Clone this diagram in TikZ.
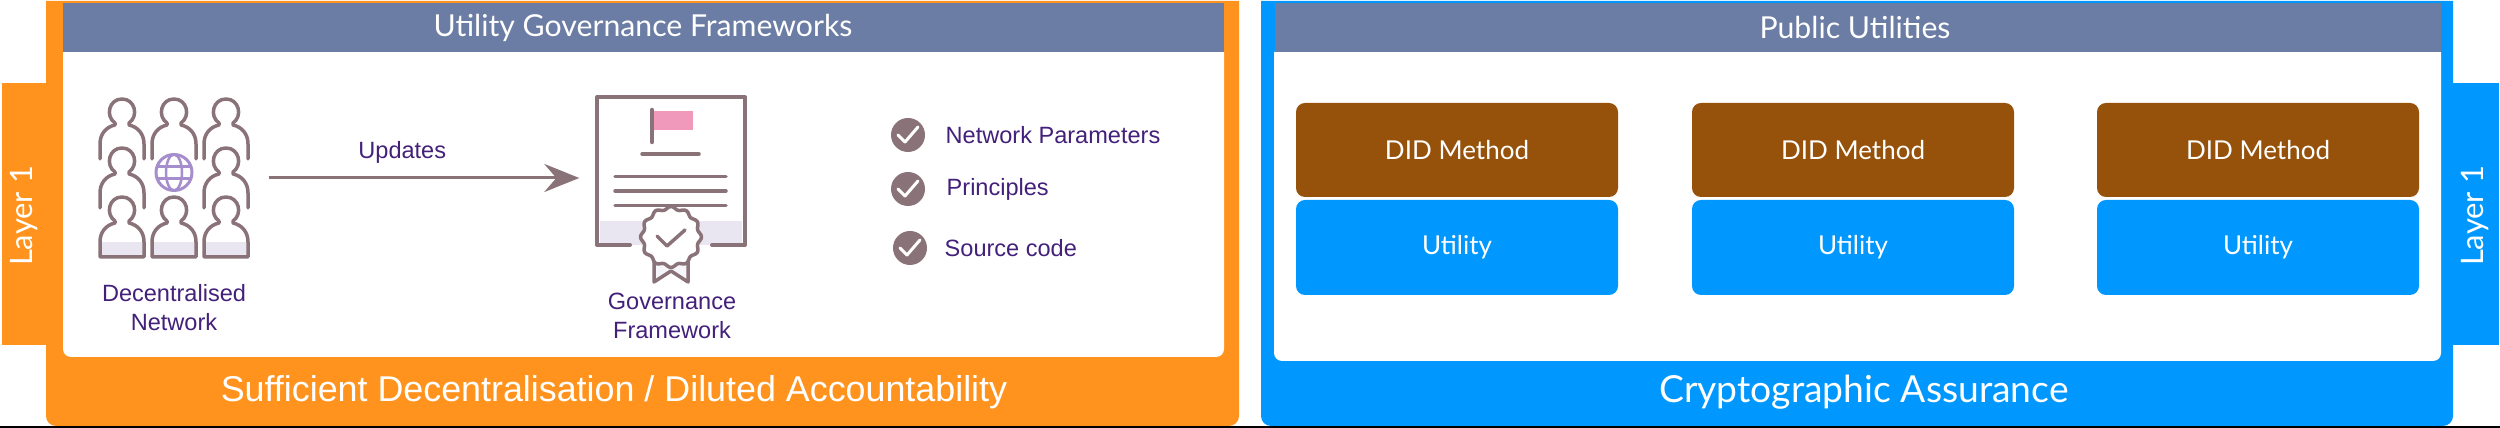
\documentclass[tikz,border=0pt]{standalone}
\usepackage{fontspec}
\setmainfont{Liberation Sans}
\newfontfamily\humanfont{Lato}
\usetikzlibrary{arrows.meta}

\definecolor{panelorange}{HTML}{FF931E}
\definecolor{panelblue}{HTML}{0098FF}
\definecolor{barslate}{HTML}{6B7CA5}
\definecolor{methodbrown}{HTML}{96520A}
\definecolor{iconmauve}{HTML}{8A7279}
\definecolor{iconlilac}{HTML}{E9E5F1}
\definecolor{globepurple}{HTML}{A68ECC}
\definecolor{flagpink}{HTML}{F199BB}
\definecolor{inkpurple}{HTML}{43207A}

\newcommand{\personpath}{(-7,11) .. controls (-17,4) and (-13,-13) .. (0,-13)
  .. controls (13,-13) and (17,4) .. (7,11) -- (7,13)
  .. controls (16,15) and (22,22) .. (22,32) -- (22,47)}

\tikzset{
  iconline/.style={draw=iconmauve, line width=0.35mm},
  barlabel/.style={text=white, font=\humanfont\fontsize{8.6}{10}\selectfont},
  footlabel/.style={text=white, inner sep=0pt},
  layerlabel/.style={text=white, rotate=90, font=\humanfont\fontsize{8.8}{10}\selectfont},
  iconlabel/.style={text=inkpurple, align=center, inner sep=0pt, font=\fontsize{6.7}{8.25}\selectfont},
  itemlabel/.style={text=inkpurple, anchor=west, inner sep=0pt, font=\fontsize{6.7}{8.25}\selectfont},
  tickdot/.style={circle, fill=iconmauve, minimum size=3.4mm, inner sep=0pt},
  methodbox/.style={rectangle, rounded corners=0.9mm, fill=methodbrown, text=white, minimum width=32.2mm, minimum height=9.4mm, inner sep=0pt, font=\humanfont\fontsize{7.4}{9}\selectfont},
  utilitybox/.style={rectangle, rounded corners=0.9mm, fill=panelblue, text=white, minimum width=32.2mm, minimum height=9.5mm, inner sep=0pt, font=\humanfont\fontsize{7.4}{9}\selectfont},
  personopen/.pic={\draw[iconline] \personpath;\draw[iconline] (-22,47) -- (-22,32) .. controls (-22,22) and (-16,15) .. (-7,13) -- (-7,11);},
  personclosed/.pic={
    \fill[iconlilac] (-22,32) rectangle (22,47);
    \draw[iconline] \personpath -- (-22,47) -- (-22,32) .. controls (-22,22) and (-16,15) .. (-7,13) -- (-7,11);}
}

\begin{document}
\begin{tikzpicture}[x=0.1mm, y=-0.1mm, >=stealth, line cap=round, line join=round]
  \useasboundingbox (0,0) rectangle (2500,428);

  % Strip along the lower edge
  \fill[black] (0,426) rectangle (2500,428);

  % Orange panel with its tab
  \fill[panelorange] (2,83) rectangle (60,345);
  \fill[panelorange] (46,1) [sharp corners] -- (1239,1) [rounded corners=1mm] -- (1239,426) -- (46,426) [sharp corners] -- cycle;
  \fill[white] (63,52) [sharp corners] -- (1224,52) [rounded corners=0.8mm] -- (1224,357) -- (63,357) [sharp corners] -- cycle;
  \fill[barslate] (63,3) rectangle (1224,52);
  \node[barlabel] (govbar) at (643,28) {Utility Governance Frameworks};
  \node[layerlabel] (layerleft) at (24,216) {Layer 1};
  \node[footlabel, font=\fontsize{10.2}{12}\selectfont] (govfoot) at (614,392) {Sufficient Decentralisation / Diluted Accountability};

  % Blue panel with its tab
  \fill[panelblue] (2440,83) rectangle (2499,345);
  \fill[panelblue] (1261,1) [sharp corners] -- (2453,1) [rounded corners=1mm] -- (2453,426) -- (1261,426) [sharp corners] -- cycle;
  \fill[white] (1274,52) [sharp corners] -- (2441,52) [rounded corners=0.8mm] -- (2441,361) -- (1274,361) [sharp corners] -- cycle;
  \fill[barslate] (1275,3) rectangle (2441,52);
  \node[barlabel] (pubbar) at (1855,28) {Public Utilities};
  \node[layerlabel] (layerright) at (2475,216) {Layer 1};
  \node[footlabel, font=\humanfont\fontsize{10.6}{12}\selectfont] (pubfoot) at (1864,392) {Cryptographic Assurance};

  % Method and utility pairs
  \foreach \n/\cx in {one/1457, two/1853, three/2258} {
    \node[methodbox] (method\n) at (\cx,150) {DID Method};
    \node[utilitybox] (utility\n) at (\cx,247.5) {Utility};
  }

  % Crowd icon
  \foreach \cx/\cy/\kind in {122/112/personopen, 174/112/personopen, 226/112/personopen,
                             122/161/personopen, 226/161/personopen,
                             122/210/personclosed, 174/210/personclosed, 226/210/personclosed} {
    \pic at (\cx,\cy) {\kind};
  }
  \draw[globepurple, line width=0.3mm] (174,172.5) circle (18);
  \draw[globepurple, line width=0.25mm] (174,172.5) ellipse (8 and 18);
  \draw[globepurple, line width=0.25mm] (157,166.5) -- (191,166.5) (157,178.5) -- (191,178.5);
  \node[iconlabel] (crowdlabel) at (174,308) {Decentralised\\Network};

  % Certificate icon
  \fill[iconlilac] (600,221) rectangle (742,245);
  \draw[iconline, line width=0.4mm] (630,245) -- (597,245) -- (597,97) -- (745,97) -- (745,245) -- (712,245);
  \fill[flagpink] (654,111) rectangle (693,130);
  \draw[iconline, line width=0.45mm] (652,110) -- (652,142);
  \draw[iconline] (642,154) -- (699,154);
  \foreach \ly in {176.5, 191, 205.5} {
    \draw[iconline] (615,\ly) -- (726,\ly);
  }
  \draw[iconline, fill=iconlilac!40] (654,258) -- (654,282) -- (671,271) -- (688,282) -- (688,258);
  \draw[iconline, fill=white] plot[domain=0:360, samples=97, smooth] ({671+(29+1.5*cos(12*\x))*cos(\x)}, {237+(29+1.5*cos(12*\x))*sin(\x)}) -- cycle;
  \draw[iconline] (657,236) -- (667,246) -- (685,230);
  \node[iconlabel] (charterlabel) at (672,315.5) {Governance\\Framework};

  % Connector between the icons
  \node[minimum width=18.8mm, minimum height=10mm, inner sep=0pt] (crowd) at (174,178) {};
  \node[minimum width=18mm, minimum height=10mm, inner sep=0pt] (charter) at (670,178) {};
  \draw[-{Stealth[length=3.5mm, width=2.8mm, inset=1.2mm]}, draw=iconmauve, fill=iconmauve, line width=0.3mm, line cap=butt] (crowd) -- (charter)
    node[pos=0.43, above=1.3mm, iconlabel] (updates) {Updates};

  % Ticked items
  \foreach \n/\cx/\cy/\lx/\txt in {1/908/135/945/Network Parameters, 2/908/189/946/Principles, 3/910/248/944/Source code} {
    \node[tickdot] (tick\n) at (\cx,\cy) {};
    \draw[white, line width=0.3mm] ([shift={(-10,0)}]tick\n.center) -- ([shift={(-3,7)}]tick\n.center) -- ([shift={(10,-8)}]tick\n.center);
    \node[itemlabel] (item\n) at (\lx,\cy) {\txt};
  }
\end{tikzpicture}
\end{document}
